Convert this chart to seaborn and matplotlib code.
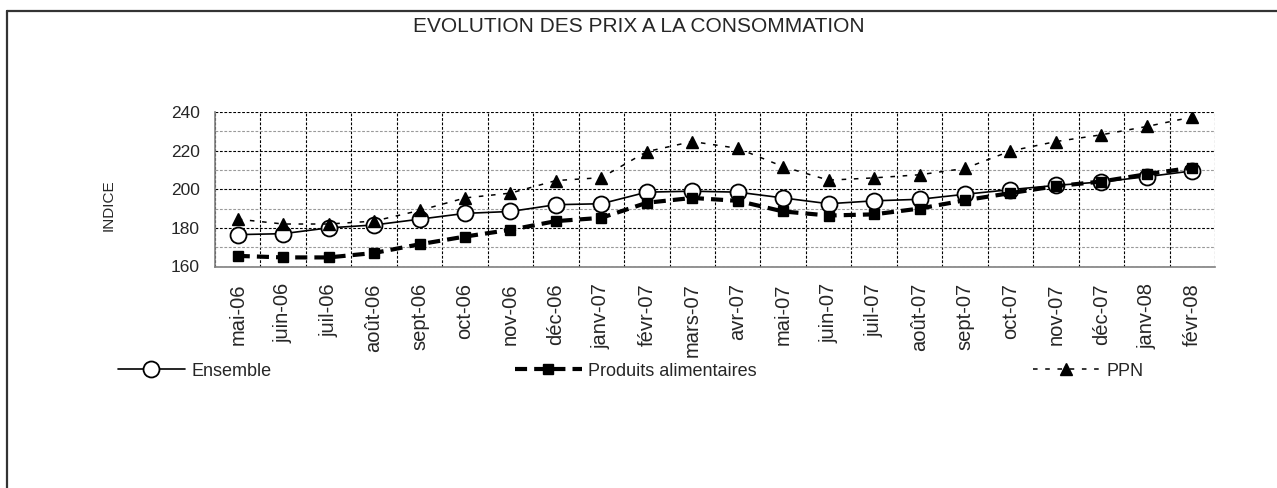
import numpy as np
import pandas as pd
import matplotlib
matplotlib.use("Agg")
import matplotlib.pyplot as plt
from matplotlib.lines import Line2D
import seaborn as sns

# values
mois = ["mai-06", "juin-06", "juil-06", "août-06", "sept-06", "oct-06", "nov-06",
        "déc-06", "janv-07", "févr-07", "mars-07", "avr-07", "mai-07", "juin-07",
        "juil-07", "août-07", "sept-07", "oct-07", "nov-07", "déc-07", "janv-08",
        "févr-08"]
ensemble = [176.5, 177.0, 180.0, 181.5, 184.5, 187.5, 188.5, 192.0, 192.5, 198.5, 199.0,
            198.5, 195.5, 192.5, 194.0, 194.8, 197.4, 199.8, 202.0, 203.8, 206.5, 209.5]
produits = [165.5, 164.7, 164.7, 167.0, 171.5, 175.5, 179.0, 183.5, 185.2, 193.0, 195.5,
            194.0, 188.5, 186.4, 187.0, 190.0, 194.3, 198.0, 201.6, 204.0, 207.8, 211.2]
ppn = [184.5, 182.0, 182.0, 183.5, 189.0, 195.5, 198.0, 204.5, 206.0, 219.5, 224.7,
       221.2, 211.7, 204.7, 205.9, 207.5, 210.8, 219.8, 224.7, 228.2, 232.5, 237.4]

df = pd.DataFrame({"pos": np.arange(len(mois)), "mois": mois,
                   "Ensemble": ensemble, "Produits alimentaires": produits, "PPN": ppn})

sns.set_style("white")
plt.rcParams["font.family"] = ["Liberation Sans", "DejaVu Sans"]

W, H = 1277, 488
fig = plt.figure(figsize=(W / 100, H / 100), dpi=100)
ax = fig.add_axes([215 / W, 1 - 266.5 / H, (1215 - 215) / W, (266.5 - 112) / H])

# -----------------------------
# series
# -----------------------------
sns.lineplot(data=df, x="pos", y="Ensemble", ax=ax, color="black", linewidth=1.2,
             marker="o", markersize=11.5, markerfacecolor="white",
             markeredgecolor="black", markeredgewidth=1.3, label="Ensemble", legend=False)
h_ens = ax.lines[-1]
sns.lineplot(data=df, x="pos", y="Produits alimentaires", ax=ax, color="black",
             linewidth=3, linestyle=(0, (2.9, 1.7)), marker="s", markersize=7,
             markerfacecolor="black", markeredgecolor="black", markeredgewidth=1,
             label="Produits alimentaires", legend=False)
h_prod = ax.lines[-1]
sns.lineplot(data=df, x="pos", y="PPN", ax=ax, color="black", linewidth=1.1,
             linestyle=(0, (3, 5)), marker="^", markersize=8, markerfacecolor="black",
             markeredgecolor="black", markeredgewidth=1, label="PPN", legend=False)
h_ppn = ax.lines[-1]

# -----------------------------
# axes, ticks, grid
# -----------------------------
ax.set_xlim(-0.5, len(mois) - 0.5)
ax.set_ylim(160, 240)
ax.set_xticks(df["pos"])
ax.set_xticklabels(mois, rotation=90, fontsize=14.5)
ax.set_xticks(np.arange(-0.5, len(mois), 1), minor=True)
ax.set_yticks(np.arange(160, 241, 20))
ax.set_yticks(np.arange(170, 240, 20), minor=True)
ax.tick_params(axis="x", which="major", length=0, pad=12)
ax.tick_params(axis="x", which="minor", length=5, color="#808080", width=1)
ax.tick_params(axis="y", which="major", length=5, color="#808080", width=1,
               labelsize=12.5, pad=6)
ax.tick_params(axis="y", which="minor", length=0)

ax.grid(axis="x", which="minor", color="black", linestyle=(0, (2.5, 1.5)), linewidth=0.8)
ax.grid(axis="y", which="major", color="black", linestyle=(0, (2.5, 1.5)), linewidth=0.8)
ax.grid(axis="y", which="minor", color="#9a9a9a", linestyle=(0, (2.5, 1.5)), linewidth=0.8)
ax.set_axisbelow(True)

for s in ["top", "right"]:
    ax.spines[s].set_visible(False)
for s in ["left", "bottom"]:
    ax.spines[s].set_color("#808080")
    ax.spines[s].set_linewidth(1.2)

ax.set_xlabel("")
ax.set_ylabel("")
fig.text(109 / W, 1 - 205 / H, "INDICE", rotation=90, ha="center", va="center",
         fontsize=11)

fig.text(0.5, 1 - 27 / H, "EVOLUTION DES PRIX A LA CONSOMMATION", ha="center",
         va="center", fontsize=15)

# -----------------------------
# legend: three separate entries spread across the width
# -----------------------------
leg_y = 1 - 371 / H
for h, x0 in [(h_ens, 118), (h_prod, 515), (h_ppn, 1033)]:
    fig.legend(handles=[h], loc="center left", bbox_to_anchor=(x0 / W, leg_y),
               frameon=False, fontsize=13, handlelength=3.7, handletextpad=0.35,
               borderpad=0, borderaxespad=0, numpoints=1)

# frame of the original sheet (left and top edges only)
fig.add_artist(Line2D([7 / W, 7 / W], [0, 1 - 10.5 / H], transform=fig.transFigure,
                      color="#333333", linewidth=1.6))
fig.add_artist(Line2D([7 / W, 1], [1 - 10.5 / H, 1 - 10.5 / H], transform=fig.transFigure,
                      color="#333333", linewidth=1.6))

fig.savefig("out.png", dpi=100)
